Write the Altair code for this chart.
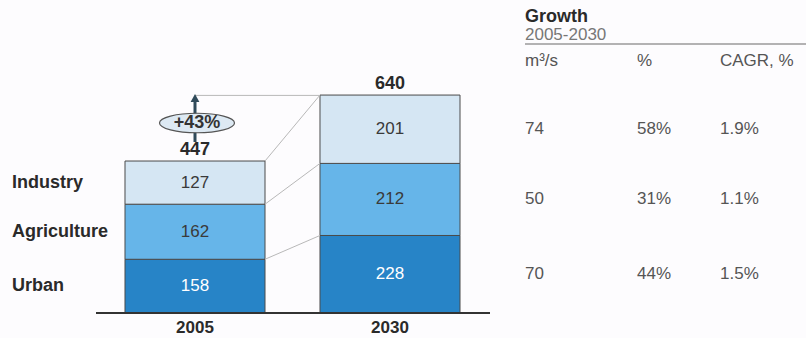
import altair as alt
import pandas as pd

# ---------------- data ----------------
years = ["2005", "2030"]
categories = ["Urban", "Agriculture", "Industry"]
values_2005 = [158, 162, 127]
values_2030 = [228, 212, 201]
totals = [447, 640]
growth_label = "+43%"
growth_m3s = ["70", "50", "74"]
growth_pct = ["44%", "31%", "58%"]
growth_cagr = ["1.5%", "1.1%", "1.9%"]
table_title = "Growth"
table_subtitle = "2005-2030"
table_headers = ["m³/s", "%", "CAGR, %"]
colors = ["#2784c7", "#66b5e9", "#d5e6f3"]

FONT = "Liberation Sans"

rows = []
for yr, vals in zip(years, [values_2005, values_2030]):
    cum = 0
    for i, (cat, v) in enumerate(zip(categories, vals)):
        rows.append(dict(year=yr, category=cat, value=v, y0=cum, y1=cum + v,
                         mid=cum + v / 2,
                         m3s=growth_m3s[i], pct=growth_pct[i], cagr=growth_cagr[i]))
        cum += v
seg = pd.DataFrame(rows)

tot = pd.DataFrame({"year": years, "total": totals})

c05 = seg[seg.year == "2005"]["y1"].tolist()
c30 = seg[seg.year == "2030"]["y1"].tolist()
conn = pd.DataFrame({"from_year": ["2005"] * 3, "to_year": ["2030"] * 3,
                     "from_v": c05, "to_v": c30})
top_line = pd.DataFrame({"from_year": ["2005"], "to_year": ["2030"], "v": [totals[1]]})
one = pd.DataFrame({"a": [0]})

yscale = alt.Scale(domain=[0, 1000], range=[313, -27], nice=False, zero=False)
xscale = alt.Scale(domain=years, range=[125, 460], paddingInner=0.282, paddingOuter=0)

# ---------------- layers ----------------
bars = alt.Chart(seg).mark_bar(stroke="#4a4a4a", strokeWidth=1).encode(
    x=alt.X("year:N", scale=xscale, axis=None),
    y=alt.Y("y0:Q", scale=yscale, axis=None),
    y2="y1:Q",
    color=alt.Color("category:N", scale=alt.Scale(domain=categories, range=colors), legend=None),
)

connectors = alt.Chart(conn).mark_rule(color="#b8b8b8", strokeWidth=1).encode(
    x=alt.X("from_year:N", bandPosition=1),
    x2=alt.X2("to_year:N", bandPosition=0),
    y="from_v:Q",
    y2="to_v:Q",
)

top_rule = alt.Chart(top_line).mark_rule(color="#b8b8b8", strokeWidth=1).encode(
    x=alt.X("from_year:N", bandPosition=0.5),
    x2=alt.X2("to_year:N", bandPosition=0),
    y="v:Q",
)

seg_labels = alt.Chart(seg).mark_text(font=FONT, fontSize=17, baseline="middle").encode(
    x="year:N",
    y="mid:Q",
    text="value:Q",
    color=alt.condition(alt.datum.category == "Urban", alt.value("#ffffff"), alt.value("#3a3a3a")),
)

total_labels = alt.Chart(tot).mark_text(font=FONT, fontSize=18, fontWeight="bold",
                                        baseline="middle", dy=-11, color="#2a2a2a").encode(
    x="year:N", y="total:Q", text="total:Q"
)

year_labels = alt.Chart(tot).mark_text(font=FONT, fontSize=17, fontWeight="bold",
                                       baseline="middle", color="#2a2a2a").encode(
    x="year:N", y=alt.value(328), text="year:N"
)

cat_labels = alt.Chart(seg[seg.year == "2005"]).mark_text(
    font=FONT, fontSize=18, fontWeight="bold", align="left", baseline="middle", color="#2a2a2a"
).encode(x=alt.value(12), y="mid:Q", text="category:N")

baseline = alt.Chart(one).mark_rule(color="#333333", strokeWidth=2).encode(
    x=alt.value(96), x2=alt.value(490), y=alt.datum(0)
)

arrow_shaft = alt.Chart(tot[tot.year == "2005"]).mark_rule(color="#2f4a5a", strokeWidth=3).encode(
    x="year:N", y=alt.value(142), y2=alt.value(102)
)
arrow_head = alt.Chart(tot[tot.year == "2005"]).mark_point(
    shape="M0,-1L0.55,0L-0.55,0Z", size=256, filled=True, color="#2f4a5a", opacity=1
).encode(x="year:N", y=alt.value(102))

ellipse = alt.Chart(one).mark_point(
    shape="M-1,0A1,0.26,0,1,0,1,0A1,0.26,0,1,0,-1,0Z", size=5625, filled=True,
    fill="#dde9f3", stroke="#555555", strokeWidth=1.2, opacity=1, fillOpacity=1
).encode(x=alt.value(197), y=alt.value(123))

growth_text = alt.Chart(one).mark_text(font=FONT, fontSize=18, fontWeight="bold",
                                       baseline="middle", color="#333333").encode(
    x=alt.value(197), y=alt.value(123), text=alt.value(growth_label)
)

# table
t_title = alt.Chart(one).mark_text(font=FONT, fontSize=18, fontWeight="bold", align="left",
                                   baseline="middle", color="#2a2a2a").encode(
    x=alt.value(525), y=alt.value(17), text=alt.value(table_title))
t_sub = alt.Chart(one).mark_text(font=FONT, fontSize=17, align="left",
                                 baseline="middle", color="#777777").encode(
    x=alt.value(525), y=alt.value(35), text=alt.value(table_subtitle))
t_rule = alt.Chart(one).mark_rule(color="#9a9a9a", strokeWidth=1.5).encode(
    x=alt.value(525), x2=alt.value(806), y=alt.value(44))
col_x = [525, 637, 720]
t_heads = [
    alt.Chart(one).mark_text(font=FONT, fontSize=17, align="left", baseline="middle",
                             color="#555555").encode(x=alt.value(cx), y=alt.value(61), text=alt.value(h))
    for cx, h in zip(col_x, table_headers)
]
rows30 = seg[seg.year == "2030"]
t_cols = [
    alt.Chart(rows30).mark_text(font=FONT, fontSize=17, align="left", baseline="middle",
                                color="#555555").encode(x=alt.value(cx), y="mid:Q", text=f"{f}:N")
    for cx, f in zip(col_x, ["m3s", "pct", "cagr"])
]

chart = alt.layer(
    bars, connectors, top_rule, seg_labels, total_labels, year_labels, cat_labels, baseline,
    arrow_shaft, arrow_head, ellipse, growth_text, t_title, t_sub, t_rule, *t_heads, *t_cols
).properties(
    width=806, height=338, autosize=alt.AutoSizeParams(type="none"), padding=0,
    background="#fdfcfe"
).configure_view(stroke=None)

chart.save("out.html", embed_options={"renderer": "svg", "actions": False})
